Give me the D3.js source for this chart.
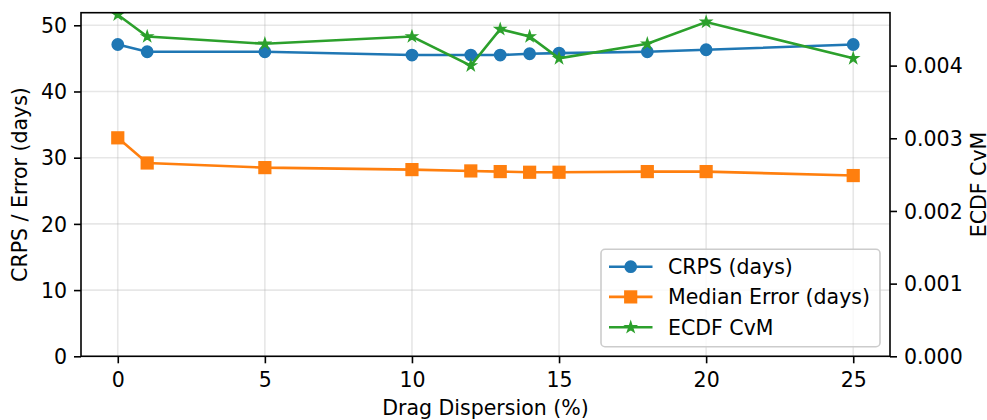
<!DOCTYPE html>
<html><head><meta charset="utf-8">
<script src="https://cdn.jsdelivr.net/npm/d3@7"></script>
<style>
html,body{margin:0;padding:0;background:#fff;}
text{font-family:"DejaVu Sans",sans-serif;fill:#000;}
</style></head>
<body><svg id="c" width="987" height="420"></svg>
<script>
const dispersion = [0, 1, 5, 10, 12, 13, 14, 15, 18, 20, 25];
const crps = [47.1, 46.0, 46.0, 45.5, 45.5, 45.5, 45.7, 45.8, 46.0, 46.3, 47.1];
const medianErr = [33.0, 29.2, 28.5, 28.2, 28.0, 27.9, 27.8, 27.8, 27.9, 27.9, 27.3];
const ecdf = [0.00470, 0.00440, 0.00430, 0.00440, 0.00400, 0.00450, 0.00440, 0.00410, 0.00430, 0.00460, 0.00410];
const xTicks = [0, 5, 10, 15, 20, 25];
const yLeftTicks = [0, 10, 20, 30, 40, 50];
const yRightTicks = [0, 0.001, 0.002, 0.003, 0.004];
const seriesNames = ["CRPS (days)", "Median Error (days)", "ECDF CvM"];
const colors = ["#1f77b4", "#ff7f0e", "#2ca02c"];

const L = 81, R = 890, T = 12.7, B = 356.3;
const FS = 20.5;
const svg = d3.select("#c");
const x = d3.scaleLinear().domain([-1.25, 26.25]).range([L, R]);
const yL = d3.scaleLinear().domain([0, 51.9]).range([B, T]);
const yR = d3.scaleLinear().domain([0, 0.004728]).range([B, T]);

svg.append("defs").append("clipPath").attr("id", "clip")
  .append("rect").attr("x", L).attr("y", T).attr("width", R - L).attr("height", B - T);

// grid
const grid = svg.append("g").attr("stroke", "#b0b0b0").attr("stroke-opacity", 0.3).attr("stroke-width", 1.6);
xTicks.forEach(t => grid.append("line").attr("x1", x(t)).attr("x2", x(t)).attr("y1", T).attr("y2", B));
yLeftTicks.forEach(t => grid.append("line").attr("x1", L).attr("x2", R).attr("y1", yL(t)).attr("y2", yL(t)));

// axes
const capH = 14.4;
const ax = svg.append("g").attr("transform", `translate(0,${B})`)
  .call(d3.axisBottom(x).tickValues(xTicks).tickSize(7).tickPadding(7).tickFormat(d3.format("d")));
const ayl = svg.append("g").attr("transform", `translate(${L},0)`)
  .call(d3.axisLeft(yL).tickValues(yLeftTicks).tickSize(7).tickPadding(7).tickFormat(d3.format("d")));
const ayr = svg.append("g").attr("transform", `translate(${R},0)`)
  .call(d3.axisRight(yR).tickValues(yRightTicks).tickSize(7).tickPadding(7).tickFormat(d3.format(".3f")));
[ax, ayl, ayr].forEach(g => {
  g.attr("font-size", FS).attr("font-family", "DejaVu Sans");
  g.select(".domain").remove();
  g.selectAll(".tick line").attr("stroke", "#000").attr("stroke-width", 1.6);
  g.selectAll(".tick text").attr("fill", "#000");
});
ax.selectAll(".tick text").attr("dy", null).attr("y", 30.4);
ayl.selectAll(".tick text").attr("dy", null).attr("y", capH / 2);
ayr.selectAll(".tick text").attr("dy", null).attr("y", capH / 2);

// series
const plot = svg.append("g").attr("clip-path", "url(#clip)");
const lineL = d3.line().x((d, i) => x(dispersion[i])).y(d => yL(d));
const lineR = d3.line().x((d, i) => x(dispersion[i])).y(d => yR(d));

plot.append("path").datum(crps).attr("d", lineL).attr("fill", "none").attr("stroke", colors[0]).attr("stroke-width", 2.6);
plot.selectAll(".c").data(crps).enter().append("circle")
  .attr("cx", (d, i) => x(dispersion[i])).attr("cy", d => yL(d)).attr("r", 5.6)
  .attr("fill", colors[0]).attr("stroke", colors[0]).attr("stroke-width", 1.6);

plot.append("path").datum(medianErr).attr("d", lineL).attr("fill", "none").attr("stroke", colors[1]).attr("stroke-width", 2.6);
plot.selectAll(".s").data(medianErr).enter().append("rect")
  .attr("x", (d, i) => x(dispersion[i]) - 5.8).attr("y", d => yL(d) - 5.8)
  .attr("width", 11.6).attr("height", 11.6)
  .attr("fill", colors[1]).attr("stroke", colors[1]).attr("stroke-width", 1.6);

const star = d3.symbol().type(d3.symbolStar).size(5.2 * 5.2 / 0.8908130915292852);
plot.append("path").datum(ecdf).attr("d", lineR).attr("fill", "none").attr("stroke", colors[2]).attr("stroke-width", 2.6);
plot.selectAll(".st").data(ecdf).enter().append("path")
  .attr("d", star).attr("transform", (d, i) => `translate(${x(dispersion[i])},${yR(d)})`)
  .attr("fill", colors[2]).attr("stroke", colors[2]).attr("stroke-width", 1.6);

// frame
svg.append("rect").attr("x", L).attr("y", T).attr("width", R - L).attr("height", B - T)
  .attr("fill", "none").attr("stroke", "#000").attr("stroke-width", 1.6);

// labels
svg.append("text").attr("x", (L + R) / 2).attr("y", 414.5).attr("text-anchor", "middle").attr("font-size", FS).text("Drag Dispersion (%)");
svg.append("text").attr("transform", `translate(27.3,${(T + B) / 2}) rotate(-90)`).attr("text-anchor", "middle").attr("font-size", FS).text("CRPS / Error (days)");
svg.append("text").attr("transform", `translate(985.5,${(T + B) / 2}) rotate(-90)`).attr("text-anchor", "middle").attr("font-size", FS).text("ECDF CvM");

// legend
const lg = svg.append("g");
lg.append("rect").attr("x", 601).attr("y", 249.3).attr("width", 279).attr("height", 97.4).attr("rx", 4)
  .attr("fill", "#fff").attr("fill-opacity", 0.8).attr("stroke", "#cccccc").attr("stroke-width", 1.6);
const rowsY = [266.7, 296.9, 327.3];
seriesNames.forEach((n, i) => {
  const g = lg.append("g").attr("transform", `translate(0,${rowsY[i]})`);
  g.append("line").attr("x1", 609).attr("x2", 652.5).attr("y1", 0).attr("y2", 0).attr("stroke", colors[i]).attr("stroke-width", 2.6);
  if (i === 0) g.append("circle").attr("cx", 630.7).attr("cy", 0).attr("r", 5.6).attr("fill", colors[0]).attr("stroke", colors[0]).attr("stroke-width", 1.6);
  if (i === 1) g.append("rect").attr("x", 630.7 - 5.8).attr("y", -5.8).attr("width", 11.6).attr("height", 11.6).attr("fill", colors[1]).attr("stroke", colors[1]).attr("stroke-width", 1.6);
  if (i === 2) g.append("path").attr("d", star).attr("transform", "translate(630.7,0)").attr("fill", colors[2]).attr("stroke", colors[2]).attr("stroke-width", 1.6);
  g.append("text").attr("x", 668).attr("y", capH / 2).attr("font-size", FS).text(n);
});
</script></body></html>
